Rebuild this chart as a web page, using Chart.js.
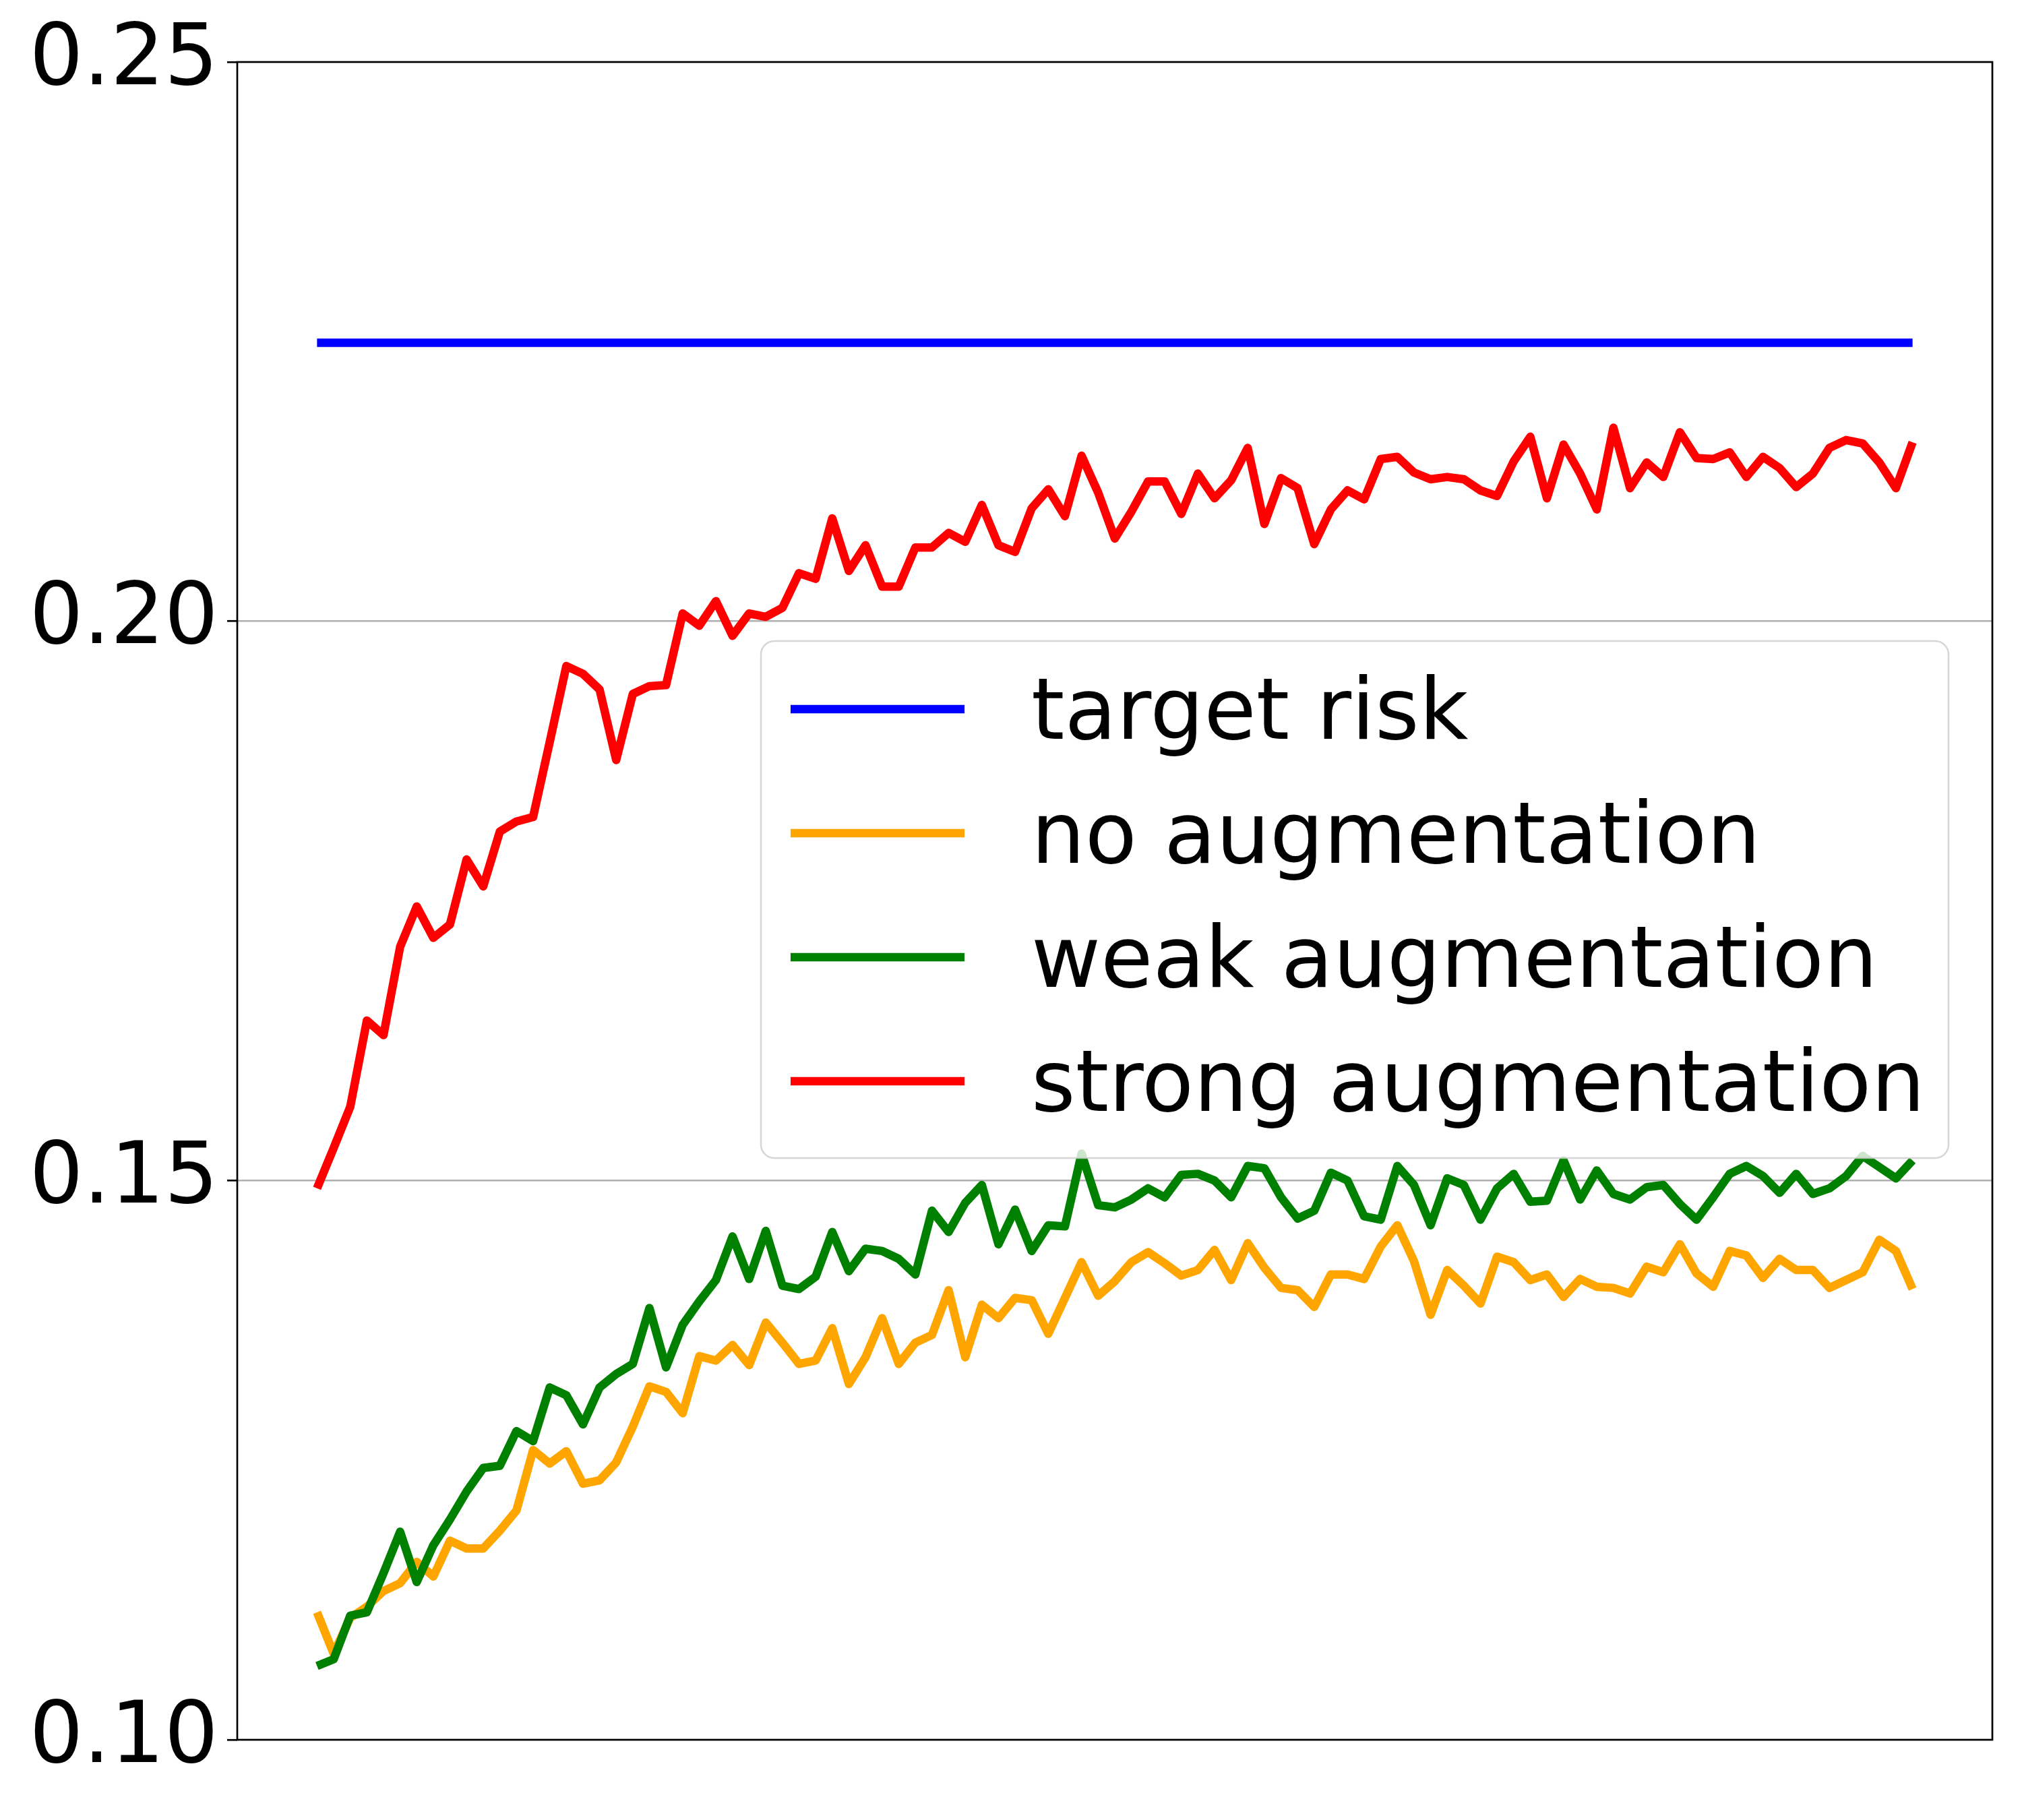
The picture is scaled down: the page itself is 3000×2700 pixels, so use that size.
<!DOCTYPE html>
<html>
<head>
<meta charset="utf-8">
<title>Augmentation risk</title>
<script src="https://cdn.jsdelivr.net/npm/chart.js@4.4.0/dist/chart.umd.min.js"></script>
<style>
  html, body { margin: 0; padding: 0; background: #ffffff; }
  #wrap { width: 3000px; height: 2700px; }
</style>
</head>
<body>
<div id="wrap"><canvas id="risk-chart" width="3000" height="2700"></canvas></div>
<script>
// values
const epochs = Array.from({ length: 97 }, (_, i) => i + 1);
const yTicks = [0.10, 0.15, 0.20, 0.25];
const seriesNames = ['target risk', 'no augmentation', 'weak augmentation', 'strong augmentation'];
const seriesColors = ['#0000ff', '#ffa500', '#008000', '#ff0000'];

const targetRisk = 0.2249;

const noAug = [
  0.1114, 0.1077, 0.1109, 0.1119, 0.1133, 0.1140, 0.1159, 0.1146, 0.1178, 0.1171,
  0.1171, 0.1187, 0.1205, 0.1259, 0.1247, 0.1258, 0.1229, 0.1232, 0.1248, 0.1280,
  0.1316, 0.1311, 0.1292, 0.1343, 0.1339, 0.1353, 0.1335, 0.1373, 0.1355, 0.1336,
  0.1339, 0.1368, 0.1318, 0.1342, 0.1377, 0.1336, 0.1355, 0.1362, 0.1402, 0.1342,
  0.1389, 0.1377, 0.1395, 0.1393, 0.1363, 0.1395, 0.1427, 0.1397, 0.1410, 0.1427,
  0.1436, 0.1426, 0.1415, 0.1420, 0.1438, 0.1411, 0.1444, 0.1422, 0.1404, 0.1402,
  0.1387, 0.1416, 0.1416, 0.1412, 0.1441, 0.1460, 0.1428, 0.1380, 0.1420, 0.1406,
  0.1390, 0.1432, 0.1427, 0.1411, 0.1416, 0.1396, 0.1412, 0.1405, 0.1404, 0.1399,
  0.1423, 0.1418, 0.1443, 0.1417, 0.1405, 0.1437, 0.1433, 0.1413, 0.1430, 0.1420,
  0.1420, 0.1404, 0.1411, 0.1418, 0.1447, 0.1437, 0.1403
];

const weakAug = [
  0.1066, 0.1072, 0.1111, 0.1114, 0.1149, 0.1186, 0.1141, 0.1174, 0.1197, 0.1222,
  0.1243, 0.1245, 0.1276, 0.1267, 0.1315, 0.1308, 0.1282, 0.1315, 0.1327, 0.1336,
  0.1386, 0.1333, 0.1371, 0.1392, 0.1411, 0.1450, 0.1412, 0.1455, 0.1406, 0.1403,
  0.1414, 0.1454, 0.1419, 0.1439, 0.1437, 0.1430, 0.1416, 0.1473, 0.1454, 0.1480,
  0.1496, 0.1443, 0.1474, 0.1437, 0.1460, 0.1459, 0.1524, 0.1478, 0.1476, 0.1483,
  0.1493, 0.1485, 0.1505, 0.1506, 0.1500, 0.1485, 0.1513, 0.1511, 0.1485, 0.1466,
  0.1473, 0.1507, 0.1500, 0.1468, 0.1465, 0.1513, 0.1496, 0.1460, 0.1502, 0.1496,
  0.1465, 0.1493, 0.1506, 0.1481, 0.1482, 0.1518, 0.1483, 0.1509, 0.1488, 0.1483,
  0.1494, 0.1496, 0.1479, 0.1465, 0.1485, 0.1506, 0.1513, 0.1504, 0.1489, 0.1506,
  0.1488, 0.1493, 0.1504, 0.1522, 0.1512, 0.1502, 0.1518
];

const strongAug = [
  0.1493, 0.1529, 0.1566, 0.1643, 0.1630, 0.1709, 0.1745, 0.1717, 0.1729, 0.1787,
  0.1763, 0.1812, 0.1821, 0.1825, 0.1892, 0.1960, 0.1953, 0.1939, 0.1876, 0.1935,
  0.1942, 0.1943, 0.2007, 0.1996, 0.2018, 0.1987, 0.2007, 0.2004, 0.2012, 0.2043,
  0.2038, 0.2092, 0.2045, 0.2068, 0.2031, 0.2031, 0.2066, 0.2066, 0.2079, 0.2071,
  0.2104, 0.2068, 0.2062, 0.2101, 0.2118, 0.2094, 0.2148, 0.2115, 0.2074, 0.2098,
  0.2125, 0.2125, 0.2096, 0.2132, 0.2110, 0.2126, 0.2155, 0.2087, 0.2128, 0.2119,
  0.2069, 0.2100, 0.2117, 0.2109, 0.2145, 0.2147, 0.2133, 0.2127, 0.2129, 0.2127,
  0.2117, 0.2112, 0.2143, 0.2165, 0.2110, 0.2158, 0.2132, 0.2100, 0.2173, 0.2119,
  0.2142, 0.2129, 0.2169, 0.2146, 0.2145, 0.2151, 0.2129, 0.2147, 0.2137, 0.2120,
  0.2132, 0.2155, 0.2162, 0.2159, 0.2142, 0.2119, 0.2160
];

const FONT = "'DejaVu Sans', 'Liberation Sans', sans-serif";
const FONT_SIZE = 126;
const LINE_W = 12.5;

function toPoints(values) {
  return values.map((v, i) => ({ x: epochs[i], y: v }));
}

// frame drawn over the lines, like the matplotlib spines
const framePlugin = {
  id: 'frame',
  afterDatasetsDraw(chart) {
    const { ctx, chartArea: a } = chart;
    ctx.save();
    ctx.strokeStyle = '#000';
    ctx.lineWidth = 2.7;
    ctx.strokeRect(a.left, a.top, a.right - a.left, a.bottom - a.top);
    ctx.restore();
  }
};

// rounded, semi transparent legend box inside the plot
const legendPlugin = {
  id: 'boxLegend',
  afterDraw(chart) {
    const ctx = chart.ctx;
    const box = { x: 1129, y: 951, w: 1762, h: 767, r: 20 };
    const rowY = [1052, 1236, 1420, 1604];
    ctx.save();
    ctx.beginPath();
    ctx.roundRect(box.x, box.y, box.w, box.h, box.r);
    ctx.fillStyle = 'rgba(255,255,255,0.8)';
    ctx.fill();
    ctx.lineWidth = 2.5;
    ctx.strokeStyle = 'rgba(204,204,204,0.8)';
    ctx.stroke();

    chart.data.datasets.forEach((ds, i) => {
      const y = rowY[i];
      ctx.beginPath();
      ctx.moveTo(1173, y);
      ctx.lineTo(1431, y);
      ctx.strokeStyle = ds.borderColor;
      ctx.lineWidth = LINE_W;
      ctx.lineCap = 'butt';
      ctx.stroke();

      ctx.fillStyle = '#000';
      ctx.font = FONT_SIZE + 'px ' + FONT;
      ctx.textAlign = 'left';
      ctx.textBaseline = 'alphabetic';
      ctx.fillText(ds.label, 1530, y + 44);
    });
    ctx.restore();
  }
};

function lineDataset(label, color, data, order) {
  return {
    label: label,
    data: data,
    borderColor: color,
    backgroundColor: color,
    borderWidth: LINE_W,
    borderJoinStyle: 'round',
    borderCapStyle: 'butt',
    pointRadius: 0,
    tension: 0,
    fill: false,
    order: order
  };
}

const ctx = document.getElementById('risk-chart');

new Chart(ctx, {
  type: 'line',
  data: {
    datasets: [
      lineDataset(seriesNames[0], seriesColors[0],
        [{ x: epochs[0], y: targetRisk }, { x: epochs[epochs.length - 1], y: targetRisk }], 3),
      lineDataset(seriesNames[1], seriesColors[1], toPoints(noAug), 2),
      lineDataset(seriesNames[2], seriesColors[2], toPoints(weakAug), 1),
      lineDataset(seriesNames[3], seriesColors[3], toPoints(strongAug), 0)
    ]
  },
  options: {
    responsive: false,
    animation: false,
    devicePixelRatio: 1,
    layout: {
      padding: { top: 92, right: 44, bottom: 119, left: 0 }
    },
    plugins: {
      legend: { display: false },
      tooltip: { enabled: false }
    },
    scales: {
      x: {
        type: 'linear',
        display: false,
        min: epochs[0] - 0.05 * (epochs[epochs.length - 1] - epochs[0]),
        max: epochs[epochs.length - 1] + 0.05 * (epochs[epochs.length - 1] - epochs[0])
      },
      y: {
        type: 'linear',
        min: yTicks[0],
        max: yTicks[yTicks.length - 1],
        afterFit: function(scale) {
          scale.width = 352;
        },
        afterBuildTicks: function(scale) {
          scale.ticks = yTicks.map(v => ({ value: v }));
        },
        border: { display: false },
        grid: {
          color: function(c) {
            const v = c.tick ? c.tick.value : null;
            if (v !== null && v > 0.101 && v < 0.249) return '#b0b0b0';
            return 'rgba(0,0,0,0)';
          },
          lineWidth: 2.5,
          tickColor: '#000',
          tickLength: 15,
          tickWidth: 2.7
        },
        ticks: {
          color: '#000',
          padding: 13,
          font: { family: FONT, size: FONT_SIZE },
          callback: function(value) {
            return Number(value).toFixed(2);
          }
        }
      }
    }
  },
  plugins: [framePlugin, legendPlugin]
});
</script>
</body>
</html>
